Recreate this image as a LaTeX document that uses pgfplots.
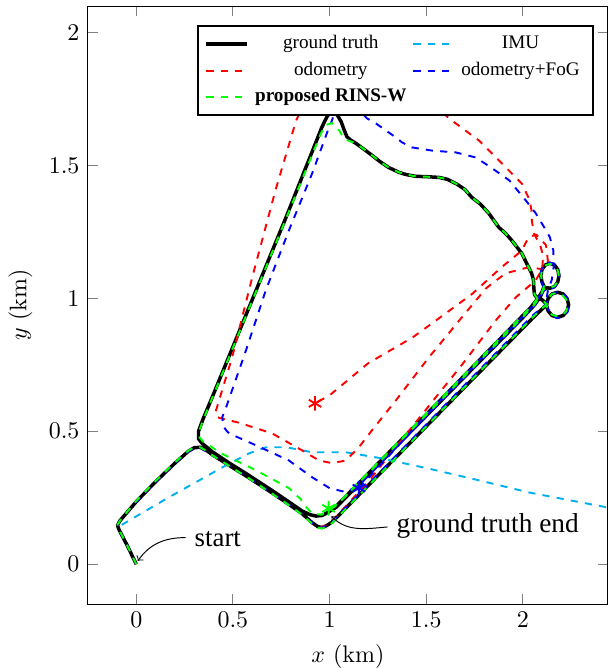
\documentclass[border=0pt]{standalone}
\usepackage{fontspec}
\newfontfamily\timesfont{Liberation Serif}
\usepackage{pgfplots}
\pgfplotsset{compat=1.18}
\definecolor{imucol}{RGB}{0,175,240}
\begin{document}
\begin{tikzpicture}
\begin{axis}[
  scale only axis, width=217pt, height=249.6pt,
  xmin=-0.25, xmax=2.44, ymin=-0.15, ymax=2.1,
  xtick={0,0.5,1,1.5,2}, ytick={0,0.5,1,1.5,2},
  xlabel={$x$ (km)}, ylabel={$y$ (km)},
  tick style={gray, thin},
  major tick length=4.2pt,
  legend columns=2,
  legend cell align=center,
  legend style={at={(0.973,0.968)}, anchor=north east,
    font=\timesfont\fontsize{8}{10}\selectfont, draw=black, thick,
    column sep=0pt, row sep=0pt, nodes={inner xsep=2.5pt}},
  legend image code/.code={\draw[mark repeat=2,mark phase=2] plot coordinates {(0cm,0cm) (0.3cm,0cm) (0.6cm,0cm)};},
  every axis plot/.append style={line join=round},
]
% ground truth
\addplot[black, line width=1.45pt] coordinates {
(0,0) (-0.05,0.075) (-0.088,0.128) (-0.097,0.145) (-0.085,0.163) (0,0.235) (0.1,0.31) (0.2,0.38) (0.27,0.425) (0.3,0.438) (0.33,0.44) (0.36,0.43) (0.393,0.412) (0.48,0.372) (0.568,0.332) (0.703,0.268) (0.79,0.225) (0.858,0.19) (0.91,0.156) (0.94,0.141) (0.962,0.138) (0.985,0.145) (1.013,0.158) (1.3,0.37) (1.633,0.617) (2.05,0.925) (2.123,0.976)
(2.131,0.9995) (2.1515,1.0167) (2.18,1.023) (2.2085,1.0167) (2.229,0.9995) (2.237,0.976) (2.229,0.9525) (2.2085,0.9353) (2.18,0.929) (2.1515,0.9353) (2.131,0.9525) (2.12,0.98) (2.10,0.995) (2.075,1.0) (2.06,1.015)
(2.057,1.04) (2.055,1.07) (2.045,1.095) (2.03,1.117) (1.995,1.169) (1.943,1.218) (1.91,1.245) (1.876,1.267) (1.824,1.32) (1.78,1.355) (1.736,1.38) (1.7,1.41) (1.654,1.432) (1.61,1.448) (1.566,1.455) (1.5,1.458) (1.447,1.459) (1.395,1.466) (1.36,1.474) (1.307,1.492) (1.26,1.515) (1.22,1.538) (1.18,1.56) (1.137,1.583) (1.11,1.595) (1.09,1.608) (1.075,1.635) (1.06,1.665) (1.04,1.69) (1.015,1.70) (0.99,1.688) (0.961,1.645)
(0.775,1.305) (0.393,0.628) (0.345,0.545) (0.322,0.5) (0.322,0.472) (0.34,0.455) (0.37,0.437)
(0.393,0.423) (0.48,0.381) (0.568,0.341) (0.703,0.277) (0.79,0.234) (0.858,0.2) (0.9,0.186) (0.93,0.181) (0.96,0.183) (0.98,0.19) (1.034,0.214)
(1.58,0.617) (2.0,0.928) (2.06,0.975) (2.09,1.005) (2.105,1.03) (2.125,1.04)
(2.14,1.038) (2.1635,1.0443) (2.1807,1.0615) (2.187,1.085) (2.1807,1.1085) (2.1635,1.1257) (2.14,1.132) (2.1165,1.1257) (2.0993,1.1085) (2.093,1.085) (2.0993,1.0615) (2.11,1.045) (2.1,1.025) (2.075,0.997) (2.04,0.965)
(1.58,0.622) (1.04,0.222) (1.0,0.2)
};
\addlegendentry{ground truth}
% IMU
\addplot[imucol, thick, dashed] coordinates {
(-0.075,0.148) (0.17,0.252) (0.465,0.372) (0.584,0.417) (0.672,0.44) (0.775,0.44) (0.91,0.421) (1.085,0.421) (1.255,0.40) (1.51,0.36) (1.77,0.316) (2.03,0.27) (2.44,0.213)
};
\addlegendentry{IMU}
% odometry
\addplot[red, thick, dashed] coordinates {
(0,0) (-0.05,0.075) (-0.09,0.13) (-0.097,0.145) (-0.085,0.163) (0,0.235) (0.1,0.31) (0.2,0.38) (0.27,0.424) (0.3,0.436) (0.33,0.438) (0.393,0.41) (0.48,0.37) (0.568,0.33) (0.703,0.266) (0.79,0.223) (0.858,0.188) (0.91,0.154) (0.94,0.142) (0.962,0.14) (0.985,0.148) (1.013,0.162)
(1.2,0.31) (1.55,0.628) (1.685,0.75) (1.86,0.917) (1.964,1.004) (2.067,1.068) (2.1,1.11) (2.105,1.16) (2.09,1.2) (2.06,1.24) (2.047,1.29) (2.045,1.33) (2.035,1.37) (1.995,1.432) (1.891,1.508) (1.773,1.594) (1.633,1.669) (1.55,1.72) (1.35,1.82) (1.1,1.87) (0.92,1.82) (0.86,1.72) (0.827,1.669) (0.72,1.406) (0.60,1.079) (0.496,0.778) (0.413,0.579) (0.41,0.56) (0.43,0.55)
(0.532,0.532) (0.703,0.492) (0.858,0.428) (0.946,0.39) (1.013,0.38) (1.085,0.39) (1.152,0.44) (1.22,0.504) (1.344,0.617) (1.514,0.778) (1.685,0.929) (1.81,1.038) (1.91,1.094) (2.03,1.117) (2.1,1.11) (2.13,1.14) (2.12,1.2) (2.07,1.24) (2.03,1.23)
(1.995,1.18) (1.89,1.117) (1.74,1.018) (1.6,0.943) (1.43,0.853) (1.2,0.756) (1.0,0.635) (0.925,0.605)
};
\addlegendentry{odometry}
% odometry+FoG
\addplot[blue, thick, dashed] coordinates {
(0,0) (-0.05,0.075) (-0.09,0.13) (-0.097,0.145) (-0.085,0.163) (0,0.235) (0.1,0.31) (0.2,0.38) (0.27,0.424) (0.3,0.436) (0.33,0.438) (0.393,0.41) (0.48,0.37) (0.568,0.33) (0.703,0.266) (0.79,0.223) (0.858,0.188) (0.91,0.154) (0.94,0.14) (0.962,0.137) (0.985,0.145) (1.013,0.16) (1.3,0.375) (1.633,0.625) (2.05,0.935) (2.123,0.98)
(2.135,1.005) (2.16,1.02) (2.19,1.025) (2.215,1.015) (2.233,0.995) (2.24,0.972) (2.232,0.95) (2.21,0.932) (2.18,0.925) (2.15,0.935) (2.13,0.96) (2.12,0.99)
(2.13,1.03) (2.15,1.07) (2.16,1.12) (2.158,1.18) (2.14,1.23) (2.12,1.256) (2.067,1.32) (2.016,1.368) (1.93,1.444) (1.84,1.49) (1.757,1.53) (1.654,1.549) (1.53,1.556) (1.426,1.568) (1.375,1.587) (1.344,1.605) (1.24,1.658) (1.194,1.677) (1.15,1.71) (1.1,1.75) (1.06,1.75) (1.03,1.71) (1.013,1.67)
(0.997,1.643) (0.91,1.47) (0.79,1.256) (0.67,1.03) (0.568,0.805) (0.465,0.59) (0.445,0.553) (0.45,0.52) (0.465,0.504) (0.48,0.492) (0.62,0.447) (0.79,0.39) (0.91,0.327) (1.0,0.286) (1.085,0.271) (1.15,0.295)
(1.58,0.615) (2.0,0.925) (2.06,0.972) (2.09,1.002) (2.105,1.027) (2.125,1.037) (2.14,1.035) (2.165,1.042) (2.183,1.06) (2.19,1.085) (2.183,1.11) (2.165,1.128) (2.14,1.135) (2.115,1.128) (2.097,1.11) (2.09,1.085) (2.097,1.06) (2.108,1.043) (2.098,1.022) (2.073,0.994) (2.04,0.962) (1.58,0.622) (1.152,0.286)
};
\addlegendentry{odometry+FoG}
% proposed
\addplot[green, thick, dashed] coordinates {
(0,0) (-0.05,0.075) (-0.088,0.128) (-0.097,0.148) (-0.08,0.168) (0,0.238) (0.1,0.313) (0.2,0.383) (0.27,0.427) (0.3,0.44) (0.33,0.44) (0.36,0.428) (0.393,0.41) (0.48,0.37) (0.568,0.33) (0.703,0.265) (0.79,0.222) (0.858,0.186) (0.91,0.152) (0.94,0.137) (0.962,0.134) (0.985,0.141) (1.013,0.155) (1.3,0.368) (1.633,0.617) (2.05,0.928) (2.123,0.978)
(2.131,1.0) (2.1515,1.017) (2.18,1.02) (2.205,1.012) (2.225,0.995) (2.232,0.974) (2.225,0.952) (2.205,0.937) (2.18,0.932) (2.1515,0.938) (2.131,0.955) (2.12,0.98) (2.10,0.995) (2.075,1.0) (2.06,1.015)
(2.057,1.04) (2.055,1.07) (2.045,1.095) (2.03,1.117) (1.995,1.169) (1.943,1.218) (1.91,1.245) (1.876,1.267) (1.824,1.32) (1.78,1.355) (1.736,1.38) (1.7,1.41) (1.654,1.432) (1.61,1.448) (1.566,1.455) (1.5,1.458) (1.447,1.459) (1.395,1.466) (1.36,1.474) (1.307,1.492) (1.26,1.515) (1.22,1.538) (1.18,1.56) (1.137,1.583) (1.1,1.593) (1.075,1.6) (1.05,1.632) (1.013,1.66) (0.98,1.652) (0.955,1.62)
(0.775,1.30) (0.393,0.625) (0.345,0.54) (0.325,0.5) (0.326,0.478) (0.345,0.462)
(0.444,0.415) (0.62,0.353) (0.79,0.286) (0.85,0.245) (0.88,0.214) (0.91,0.19) (0.96,0.186) (1.034,0.22)
(1.58,0.62) (2.0,0.93) (2.06,0.977) (2.09,1.007) (2.105,1.032) (2.125,1.042) (2.14,1.04) (2.1635,1.046) (2.18,1.063) (2.186,1.085) (2.18,1.107) (2.1635,1.124) (2.14,1.13) (2.1165,1.124) (2.1,1.107) (2.094,1.085) (2.1,1.063) (2.11,1.047) (2.1,1.027) (2.075,0.999) (2.04,0.967) (1.58,0.626) (1.04,0.226) (0.995,0.21)
};
\addlegendentry{\textbf{proposed RINS-W}}
% end markers
\addplot[red, only marks, mark=asterisk, mark size=3pt, thick, forget plot] coordinates {(0.925,0.605)};
\addplot[blue, only marks, mark=asterisk, mark size=3pt, thick, forget plot] coordinates {(1.152,0.286)};
\addplot[green, only marks, mark=asterisk, mark size=3pt, thick, forget plot] coordinates {(0.995,0.21)};
% annotations
\draw[->, thin] (axis cs:0.255,0.1) to[out=180,in=55] (axis cs:0.008,0.012);
\node[anchor=west, inner sep=0pt, font=\timesfont\fontsize{11.2}{13}\selectfont] at (axis cs:0.30,0.096) {start};
\draw[->, thin] (axis cs:1.30,0.14) to[out=185,in=-45] (axis cs:1.01,0.18);
\node[anchor=west, inner sep=0pt, font=\timesfont\fontsize{11.4}{13}\selectfont] at (axis cs:1.345,0.143) {ground truth end};
\end{axis}
\pgfresetboundingbox
\useasboundingbox ([shift={(-36.7pt,-26.7pt)}]current axis.south west) rectangle ([shift={(0.2pt,2.5pt)}]current axis.north east);
\end{tikzpicture}
\end{document}
